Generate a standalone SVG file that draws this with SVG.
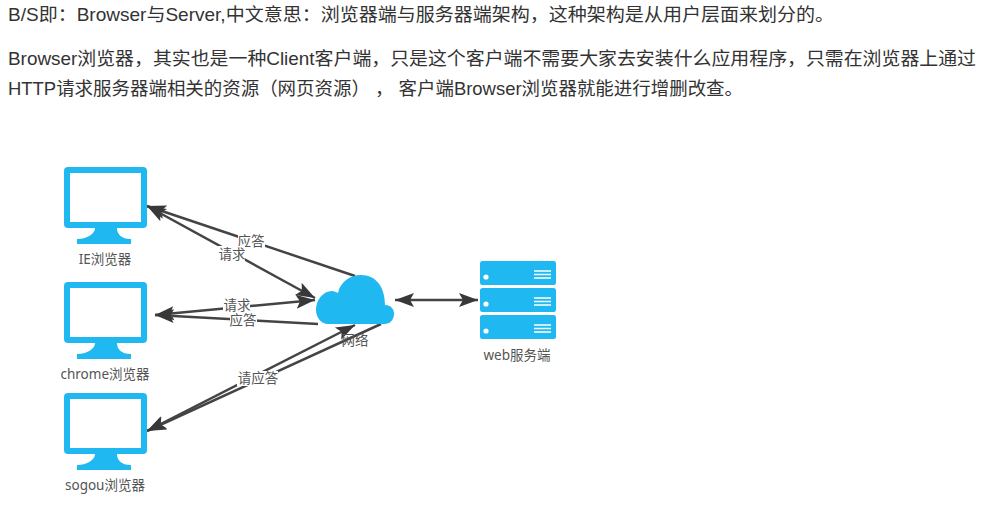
<svg xmlns="http://www.w3.org/2000/svg" width="999" height="507" viewBox="0 0 999 507">
<style>
text{font-family:"Liberation Sans","Noto Sans CJK SC",sans-serif}
.p{font-size:18.6px;fill:#333}
.l{font-family:"Noto Sans","Noto Sans CJK SC",sans-serif;font-size:13.5px;fill:#555;text-anchor:middle}
.c{stroke:#444;stroke-width:2.5;fill:none}
.b{fill:#1fb8f1}
.w{fill:#fff}
</style>
<defs>
<marker id="a" markerUnits="userSpaceOnUse" markerWidth="20" markerHeight="16" refX="19" refY="8" orient="auto-start-reverse"><path d="M0 1L19 8L0 15L4 8Z" fill="#383838"/></marker>
<g id="mon"><rect x="64" y="167" width="83" height="61" rx="4" class="b"/><rect x="70" y="173" width="71" height="49" class="w"/><path d="M95 228h22c0 6 4 11 14 11v5H77v-5c10 0 18-5 18-11Z" class="b"/></g>
<g id="srv"><rect x="480" y="0" width="76" height="24" rx="2.5" class="b"/><circle cx="486" cy="16" r="2.6" class="w"/><path d="M534 10h17M534 13.500h17M534 17h17" stroke="#fff" stroke-width="1.300"/></g>
</defs>
<rect width="999" height="507" fill="#fff"/>
<text class="p" x="8" y="21" textLength="826" lengthAdjust="spacingAndGlyphs">B/S即：Browser与Server,中文意思：浏览器端与服务器端架构，这种架构是从用户层面来划分的。</text>
<text class="p" x="8" y="65" textLength="968" lengthAdjust="spacingAndGlyphs">Browser浏览器，其实也是一种Client客户端，只是这个客户端不需要大家去安装什么应用程序，只需在浏览器上通过</text>
<text class="p" x="8" y="95" textLength="735" lengthAdjust="spacingAndGlyphs">HTTP请求服务器端相关的资源（网页资源） ， <tspan>客户端Browser浏览器就能进行增删改查。</tspan></text>
<g id="connectors">
<path class="c" marker-end="url(#a)" d="M355 276L147 206"/>
<path class="c" marker-start="url(#a)" marker-end="url(#a)" d="M147 206L315 298"/>
<path class="c" marker-start="url(#a)" marker-end="url(#a)" d="M155 315L315 300"/>
<path class="c" marker-end="url(#a)" d="M318 324L155 315"/>
<path class="c" marker-start="url(#a)" marker-end="url(#a)" d="M147 431L355 325"/>
<path class="c" marker-end="url(#a)" d="M381 324L147 431"/>
<path class="c" marker-start="url(#a)" marker-end="url(#a)" d="M395 300L478 300"/>
</g>
<g id="edge-labels">
<rect x="238" y="234" width="27" height="15" class="w"/><text class="l" x="251" y="246">应答</text>
<rect x="218" y="246" width="27" height="15" class="w"/><text class="l" x="232" y="259">请求</text>
<rect x="223" y="300" width="27" height="13" class="w"/><text class="l" x="237" y="310">请求</text>
<rect x="230" y="312" width="27" height="14" class="w"/><text class="l" x="243" y="325">应答</text>
<rect x="237" y="371" width="41" height="15" class="w"/><text class="l" x="258" y="383">请应答</text>
</g>
<g id="ie"><use href="#mon"/><text class="l" x="105" y="264">IE浏览器</text></g>
<g id="chrome"><use href="#mon" y="115"/><text class="l" x="105" y="379">chrome浏览器</text></g>
<g id="sogou"><use href="#mon" y="226"/><text class="l" x="105" y="490">sogou浏览器</text></g>
<g id="cloud"><path class="b" d="M328 324C321 324 316 317 316 310C316 300 323 291 332 291C334 291 336 292 338 293C340 283 349 275 361 275C376 275 385 287 385 305C391 305 394 309 394 314C394 320 390 324 384 324Z"/><text class="l" x="355" y="345">网络</text></g>
<g id="web"><use href="#srv" y="261"/><use href="#srv" y="288"/><use href="#srv" y="315"/><text class="l" x="517" y="360">web服务端</text></g>
</svg>
